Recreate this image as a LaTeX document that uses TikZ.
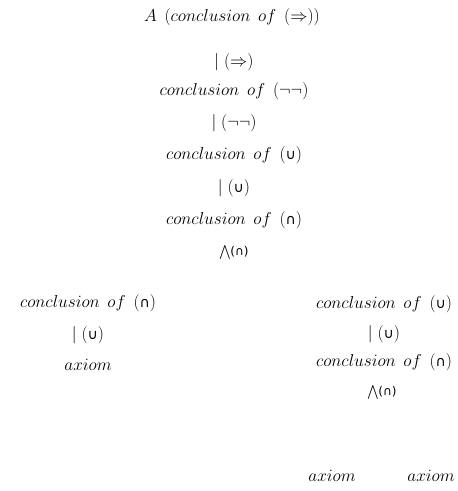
\documentclass[tikz,border=0pt]{standalone}
\usepackage{fontspec}
\newfontfamily\dvs{DejaVu Sans}
\newcommand{\ucup}{{\dvs\fontsize{14}{16}\selectfont ∪}}
\newcommand{\ucap}{{\dvs\fontsize{14}{16}\selectfont ∩}}
\newcommand{\bigand}{{\fontsize{13}{15}\selectfont$\displaystyle\bigwedge$}{\dvs\fontsize{12}{14}\selectfont(∩)}}
\newcommand{\wsp}{\mskip 8mu}
\begin{document}
\begin{tikzpicture}[x=1pt,y=1pt,
  lbl/.style={inner sep=0pt, font=\fontsize{19}{22}\selectfont}]
\useasboundingbox (0,0) rectangle (458,-491);
\node[lbl] (top) at (232,-17) {$A\wsp(conclusion\wsp of\wsp(\Rightarrow))$};
\node[lbl] (r1) at (234,-62) {$\mid(\Rightarrow)$};
\node[lbl] (c1) at (234,-91) {$conclusion\wsp of\wsp(\neg\neg)$};
\node[lbl] (r2) at (234,-123) {$\mid(\neg\neg)$};
\node[lbl] (c2) at (234,-155) {$conclusion\wsp of\wsp($\ucup$)$};
\node[lbl] (r3) at (234,-188) {$\mid($\ucup$)$};
\node[lbl] (c3) at (234,-220) {$conclusion\wsp of\wsp($\ucap$)$};
\node[lbl] (r4) at (234,-252) {\bigand};
\node[lbl] (lc) at (88,-303) {$conclusion\wsp of\wsp($\ucap$)$};
\node[lbl] (lr) at (88,-335) {$\mid($\ucup$)$};
\node[lbl] (la) at (88,-365) {$axiom$};
\node[lbl] (rc) at (384,-304) {$conclusion\wsp of\wsp($\ucup$)$};
\node[lbl] (rr) at (384,-334) {$\mid($\ucup$)$};
\node[lbl] (rc2) at (384,-362) {$conclusion\wsp of\wsp($\ucap$)$};
\node[lbl] (rw) at (382,-392) {\bigand};
\node[lbl] (ra1) at (332,-476) {$axiom$};
\node[lbl] (ra2) at (431,-476) {$axiom$};
\end{tikzpicture}
\end{document}
